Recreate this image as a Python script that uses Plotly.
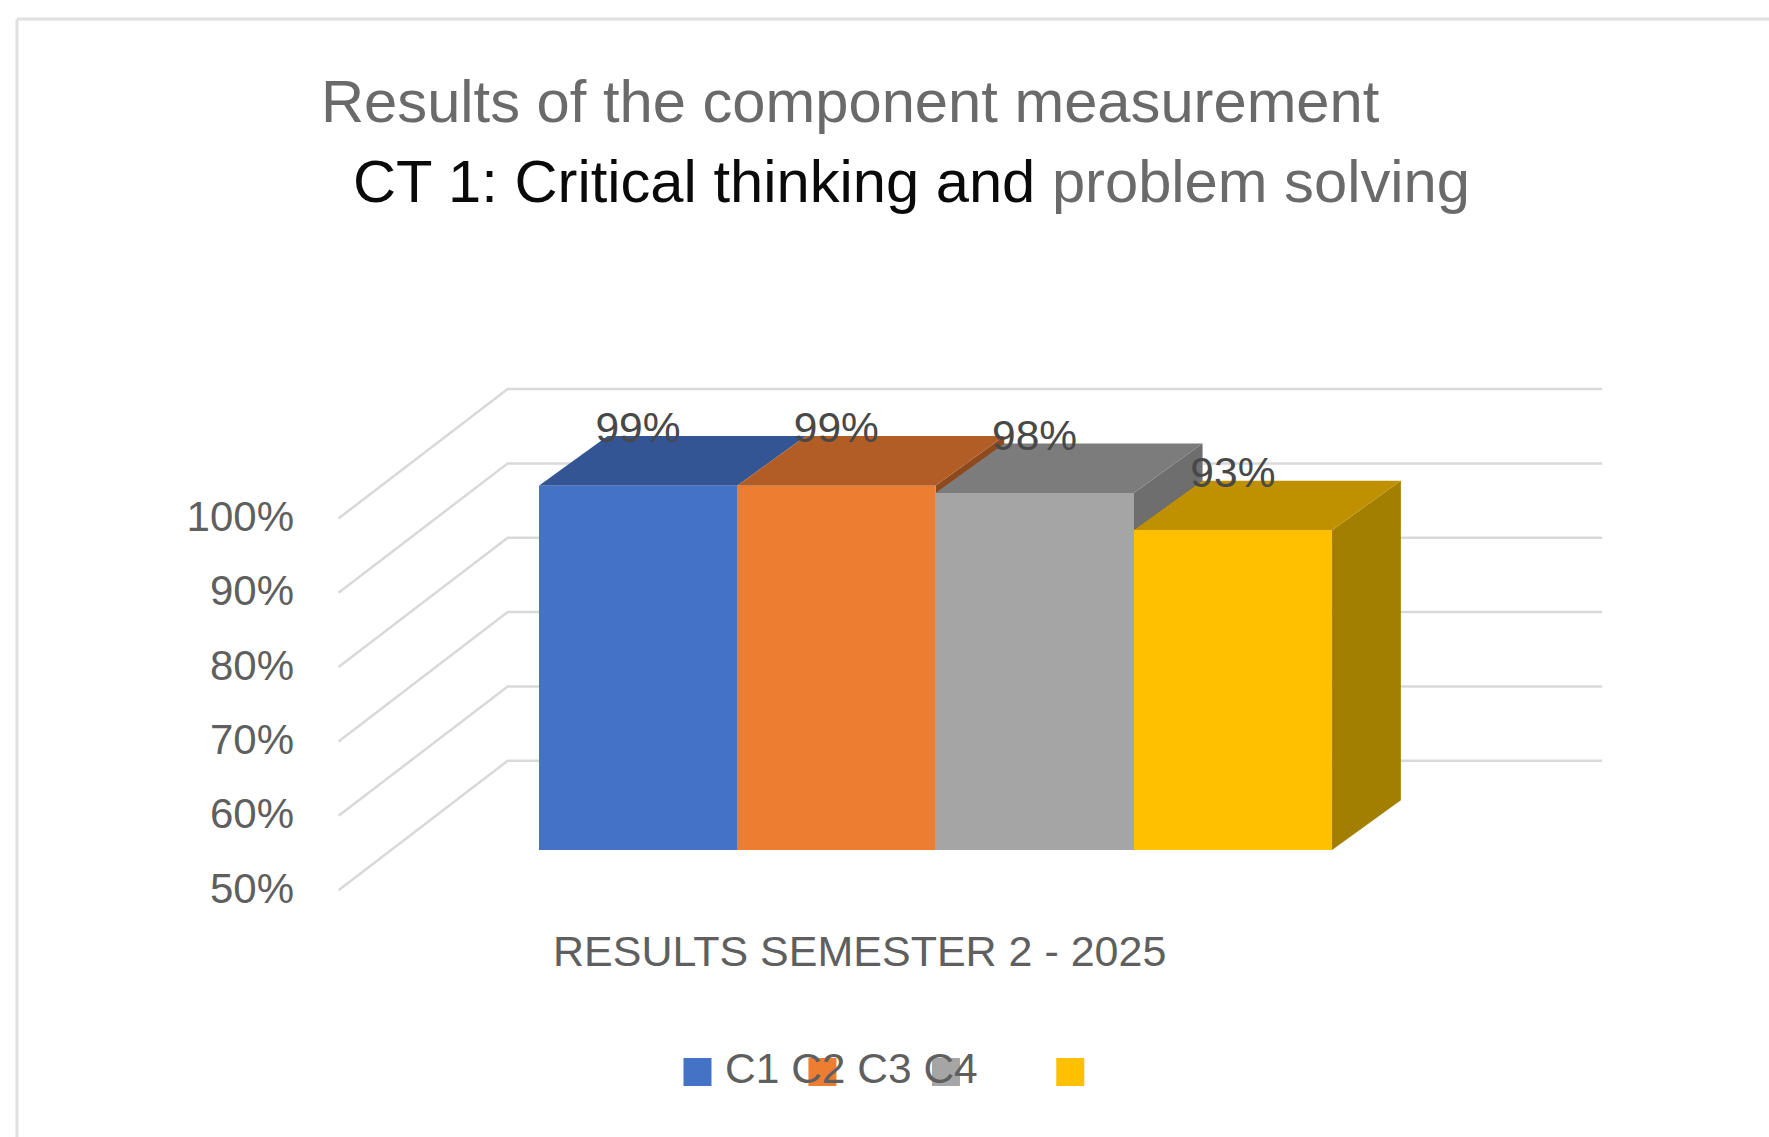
import plotly.graph_objects as go

# ---- data ----
components = ["C1", "C2", "C3", "C4"]
scores = [99, 99, 98, 93]
score_labels = ["99%", "99%", "98%", "93%"]
grid_values = [50, 60, 70, 80, 90, 100]
tick_labels = ["50%", "60%", "70%", "80%", "90%", "100%"]
front_colors = ["#4472C4", "#ED7D31", "#A5A5A5", "#FFC000"]
top_colors = ["#335593", "#B25D25", "#7C7C7C", "#BF9000"]
side_colors = ["#294476", "#8E4A1D", "#6E6E6E", "#A37F00"]

# ---- layout of the fake 3D projection (axis units) ----
W, H = 1769, 1137
BASE = 50
DEPTH_X, DEPTH_Y = 0.347, 6.68        # depth of each column
WALL_L, WALL_R, FLOOR_L = -0.657, 4.862, -1.51
WALL_DY, FRONT_DY = 12.0, -5.4
GREY = "#5F5F5F"
FONT = "Liberation Sans, Arial, sans-serif"
X_RANGE = [-638 / 198.3, (W - 638) / 198.3]
Y_RANGE = [BASE + (850 - H) / 7.435, BASE + 850 / 7.435]

fig = go.Figure()

# gridlines: front edge -> back wall -> right end
for v in grid_values:
    fig.add_trace(go.Scatter(
        x=[FLOOR_L, WALL_L, WALL_R],
        y=[v + FRONT_DY, v + WALL_DY, v + WALL_DY],
        mode="lines", line=dict(color="#D9D9D9", width=2.5),
        hoverinfo="skip"))

# depth faces; a side shows only where the next column is lower
for i, v in enumerate(scores):
    if i == len(scores) - 1 or scores[i + 1] < v:
        fig.add_trace(go.Scatter(
            x=[i + .5, i + .5 + DEPTH_X, i + .5 + DEPTH_X, i + .5, i + .5],
            y=[BASE, BASE + DEPTH_Y, v + DEPTH_Y, v, BASE],
            mode="lines", fill="toself", fillcolor=side_colors[i],
            line=dict(width=0), hoverinfo="skip"))
    fig.add_trace(go.Scatter(
        x=[i - .5, i + .5, i + .5 + DEPTH_X, i - .5 + DEPTH_X, i - .5],
        y=[v, v, v + DEPTH_Y, v + DEPTH_Y, v],
        mode="lines", fill="toself", fillcolor=top_colors[i],
        line=dict(width=0), hoverinfo="skip"))

# front faces (on an overlaying subplot, so that they cover the depth faces)
fig.add_trace(go.Bar(
    x=list(range(len(scores))), y=[v - BASE for v in scores], base=BASE,
    width=1, marker=dict(color=front_colors, line=dict(width=0)),
    customdata=components, xaxis="x2", yaxis="y2"))

# data labels
fig.add_trace(go.Scatter(
    x=list(range(len(scores))), y=[v + 7.25 for v in scores],
    mode="text", text=score_labels, textposition="middle center",
    textfont=dict(family=FONT, size=42.5, color="#484848"), hoverinfo="skip",
    xaxis="x2", yaxis="y2"))

# legend swatches
fig.add_trace(go.Scatter(
    x=[0.30, 0.93, 1.553, 2.18], y=[20.14] * 4, mode="markers",
    marker=dict(symbol="square", size=28, color=front_colors, line=dict(width=0)),
    hoverinfo="skip", xaxis="x2", yaxis="y2"))

fig.update_layout(
    width=W, height=H, autosize=False,
    margin=dict(l=0, r=0, t=0, b=0),
    paper_bgcolor="#FFFFFF", plot_bgcolor="rgba(0,0,0,0)",
    showlegend=False, bargap=0,
    xaxis=dict(range=X_RANGE, visible=False, domain=[0, 1]),
    xaxis2=dict(range=X_RANGE, visible=False, overlaying="x", anchor="y2"),
    yaxis2=dict(range=Y_RANGE, visible=False, overlaying="y", anchor="x2"),
    yaxis=dict(
        range=Y_RANGE,
        anchor="free", position=294 / W, domain=[0, 1],
        showgrid=False, zeroline=False, showline=False, ticks="",
        tickmode="array", tickvals=[v - 5.1 for v in grid_values], ticktext=tick_labels,
        tickfont=dict(family=FONT, size=42, color=GREY)),
    shapes=[
        dict(type="line", xref="paper", yref="paper", x0=17 / W, x1=1, y0=1 - 19 / H, y1=1 - 19 / H,
             line=dict(color="#E0E0E0", width=3)),
        dict(type="line", xref="paper", yref="paper", x0=17 / W, x1=17 / W, y0=0, y1=1 - 19 / H,
             line=dict(color="#E0E0E0", width=3)),
    ],
    annotations=[
        dict(text="Results of the component measurement", xref="paper", yref="paper",
             x=319 / W, y=1 - 101 / H, xanchor="left", yanchor="middle", showarrow=False,
             font=dict(family=FONT, size=59.7, color="#6A6A6A")),
        dict(text="<span style='color:#0A0A0A'>CT 1: Critical thinking and</span> problem solving",
             xref="paper", yref="paper",
             x=351 / W, y=1 - 181 / H, xanchor="left", yanchor="middle", showarrow=False,
             font=dict(family=FONT, size=59.7, color="#6A6A6A")),
        dict(text="RESULTS SEMESTER 2 - 2025", xref="paper", yref="paper",
             x=859 / W, y=1 - 951 / H, xanchor="center", yanchor="middle", showarrow=False,
             font=dict(family=FONT, size=43, color=GREY)),
        dict(text=" ".join(components), xref="paper", yref="paper",
             x=851 / W, y=1 - 1068 / H, xanchor="center", yanchor="middle", showarrow=False,
             font=dict(family=FONT, size=42.5, color=GREY)),
    ],
)

fig.write_html("out.html", config={"displayModeBar": False},
               post_script="document.body.style.margin='0';document.body.style.overflow='hidden';")
